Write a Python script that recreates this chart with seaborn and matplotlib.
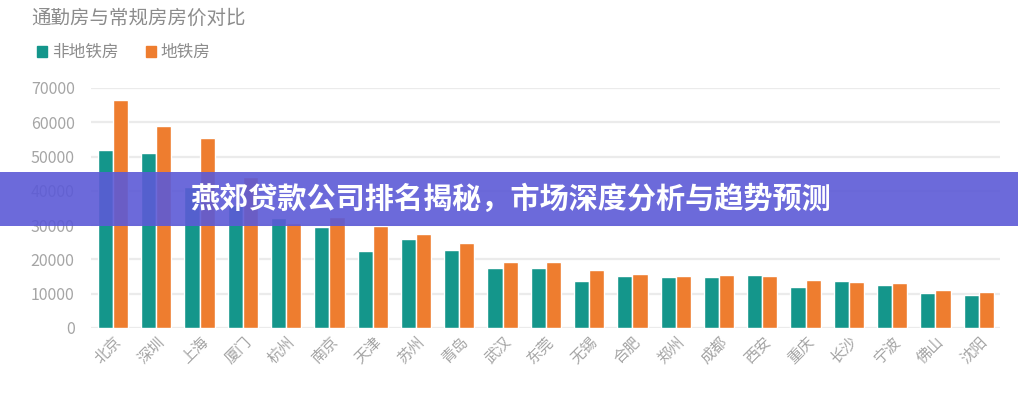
import pandas as pd
import numpy as np
import matplotlib.pyplot as plt
import seaborn as sns
from matplotlib.patches import Rectangle, Patch

# data
cities = ['北京', '深圳', '上海', '厦门', '杭州', '南京', '天津', '苏州', '青岛', '武汉', '东莞',
          '无锡', '合肥', '郑州', '成都', '西安', '重庆', '长沙', '宁波', '佛山', '沈阳']
non_metro = [52000, 51000, 41000, 36000, 32000, 29500, 22500, 26000, 22700, 17500, 17500,
             13700, 15200, 14900, 15000, 15500, 12000, 13700, 12500, 10200, 9600]
metro = [66500, 58900, 55400, 44000, 30500, 32500, 29700, 27400, 24800, 19200, 19200,
         16900, 15700, 15200, 15500, 15200, 14000, 13400, 13100, 11100, 10500]
series = ['非地铁房', '地铁房']
colors = {'非地铁房': '#14968b', '地铁房': '#ee7d2f'}

df = pd.DataFrame({
    '城市': cities * 2,
    '类型': [series[0]] * len(cities) + [series[1]] * len(cities),
    '房价': non_metro + metro,
})

sns.set_style('white')
plt.rcParams['font.family'] = ['Noto Sans CJK SC', 'DejaVu Sans']

fig = plt.figure(figsize=(10.18, 4.0), dpi=100)
ax = fig.add_axes([0.0897, 0.18, 0.893, 0.60])

sns.barplot(data=df, x='城市', y='房价', hue='类型', palette=colors,
            width=0.7, ax=ax, legend=False, saturation=1)

ax.set_ylim(0, 70000)
ax.set_yticks(np.arange(0, 70001, 10000))
ax.set_xlabel('')
ax.set_ylabel('')
ax.grid(axis='y', color='#ebebeb', linewidth=1.6)
ax.set_axisbelow(True)
sns.despine(ax=ax, left=True, bottom=True)
ax.tick_params(axis='y', length=0, pad=12, labelsize=11.5, labelcolor='#a5a5a5')
ax.tick_params(axis='x', length=0, pad=4, labelsize=11, labelcolor='#a5a5a5')
for lab in ax.get_xticklabels():
    lab.set_rotation(45)
    lab.set_ha('right')
    lab.set_rotation_mode('anchor')

# title and legend
fig.text(0.031, 0.953, '通勤房与常规房房价对比', fontsize=14, color='#8c8c8c',
         ha='left', va='center')
handles = [Patch(color=colors[s], label=s) for s in series]
fig.legend(handles=handles, loc='center left', bbox_to_anchor=(0.022, 0.868),
           ncol=2, frameon=False, fontsize=12, labelcolor='#8c8c8c',
           handlelength=0.6, handleheight=0.6, handletextpad=0.3, columnspacing=1.6)

# banner overlay
fig.add_artist(Rectangle((0, 0.435), 1, 0.135, transform=fig.transFigure,
                         color='#5c5ad6', alpha=0.9, zorder=10, linewidth=0))
fig.text(0.502, 0.502, '燕郊贷款公司排名揭秘，市场深度分析与趋势预测', fontsize=21,
         fontweight='bold', color='white', ha='center', va='center', zorder=11)

fig.savefig('out.png', dpi=100)
